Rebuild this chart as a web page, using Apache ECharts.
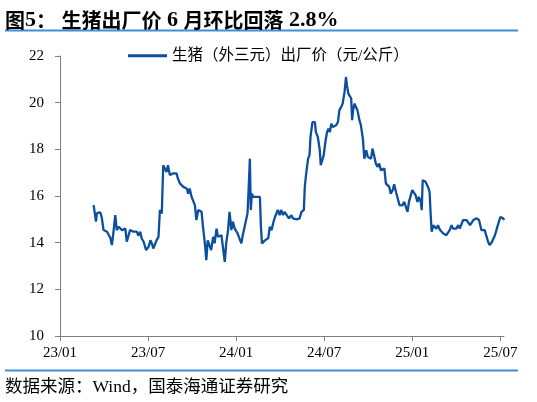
<!DOCTYPE html>
<html>
<head>
    <meta charset="utf-8">
    <title>生猪出厂价</title>
    <script src="https://cdn.jsdelivr.net/npm/echarts@6/dist/echarts.min.js"></script>
    <style>
        html, body { margin: 0; padding: 0; background: #fff; }
        #chart { width: 537px; height: 402px; }
    </style>
</head>
<body>
<div id="chart"></div>
<script>
    // 生猪（外三元）出厂价，元/公斤
    var dates = [
        '2023-03-10','2023-03-15','2023-03-17','2023-03-24','2023-03-27','2023-03-31','2023-04-07','2023-04-14','2023-04-17','2023-04-20',
        '2023-04-24','2023-04-27','2023-05-01','2023-05-08','2023-05-15','2023-05-18','2023-05-25','2023-06-01','2023-06-08','2023-06-11',
        '2023-06-15','2023-06-18','2023-06-22','2023-06-27','2023-07-02','2023-07-06','2023-07-09','2023-07-12','2023-07-19','2023-07-23',
        '2023-07-26','2023-07-30','2023-08-02','2023-08-06','2023-08-09','2023-08-12','2023-08-16','2023-08-23','2023-08-30','2023-09-02',
        '2023-09-06','2023-09-13','2023-09-20','2023-09-23','2023-09-26','2023-09-30','2023-10-07','2023-10-10','2023-10-14','2023-10-21',
        '2023-10-24','2023-10-28','2023-10-31','2023-11-03','2023-11-07','2023-11-10','2023-11-14','2023-11-17','2023-11-21','2023-11-24',
        '2023-11-28','2023-12-01','2023-12-04','2023-12-08','2023-12-11','2023-12-15','2023-12-18','2023-12-22','2023-12-25','2023-12-29',
        '2024-01-01','2024-01-04','2024-01-08','2024-01-12','2024-01-15','2024-01-18','2024-01-22','2024-01-25','2024-01-27','2024-01-30',
        '2024-02-01','2024-02-03','2024-02-06','2024-02-12','2024-02-19','2024-02-21','2024-02-23','2024-02-29','2024-03-03','2024-03-07',
        '2024-03-10','2024-03-14','2024-03-17','2024-03-21','2024-03-27','2024-03-31','2024-04-03','2024-04-07','2024-04-10','2024-04-14',
        '2024-04-19','2024-04-24','2024-04-27','2024-05-05','2024-05-11','2024-05-15','2024-05-20','2024-05-22','2024-05-25','2024-05-29',
        '2024-06-01','2024-06-03','2024-06-07','2024-06-09','2024-06-12','2024-06-14','2024-06-16','2024-06-18','2024-06-22','2024-06-24',
        '2024-06-27','2024-06-30','2024-07-04','2024-07-07','2024-07-10','2024-07-13','2024-07-16','2024-07-19','2024-07-23','2024-07-26',
        '2024-07-30','2024-08-02','2024-08-06','2024-08-09','2024-08-13','2024-08-16','2024-08-18','2024-08-21','2024-08-23','2024-08-27',
        '2024-08-29','2024-08-31','2024-09-03','2024-09-07','2024-09-09','2024-09-13','2024-09-16','2024-09-20','2024-09-23','2024-09-27',
        '2024-09-30','2024-10-03','2024-10-07','2024-10-10','2024-10-14','2024-10-17','2024-10-21','2024-10-24','2024-10-28','2024-10-31',
        '2024-11-04','2024-11-07','2024-11-10','2024-11-14','2024-11-17','2024-11-21','2024-11-24','2024-11-28','2024-12-01','2024-12-05',
        '2024-12-08','2024-12-11','2024-12-15','2024-12-19','2024-12-22','2024-12-25','2024-12-29','2025-01-01','2025-01-05','2025-01-08',
        '2025-01-12','2025-01-15','2025-01-19','2025-01-21','2025-01-23','2025-01-29','2025-02-03','2025-02-06','2025-02-08','2025-02-10',
        '2025-02-13','2025-02-19','2025-02-22','2025-02-26','2025-03-01','2025-03-04','2025-03-11','2025-03-18','2025-03-22','2025-03-25',
        '2025-04-01','2025-04-05','2025-04-08','2025-04-15','2025-04-22','2025-04-25','2025-04-29','2025-05-06','2025-05-13','2025-05-18',
        '2025-05-23','2025-05-26','2025-05-30','2025-06-02','2025-06-06','2025-06-09','2025-06-13','2025-06-20','2025-06-26','2025-07-01',
        '2025-07-04','2025-07-07','2025-07-09'
    ];
    var prices = [
        15.61,14.90,15.27,15.30,15.10,14.54,14.47,14.20,13.90,14.40,
        15.18,14.54,14.68,14.54,14.60,14.04,14.54,14.47,14.47,14.30,
        14.47,14.18,14.04,13.68,13.82,14.10,13.97,13.75,14.10,14.25,
        15.40,15.25,17.32,17.39,17.03,17.32,16.90,16.97,16.97,16.75,
        16.54,16.39,16.32,16.10,16.32,15.96,15.60,14.97,15.40,15.32,
        14.68,13.97,13.25,14.10,14.18,13.68,14.25,13.97,14.60,14.25,
        14.18,14.32,13.82,13.18,13.97,14.54,15.32,14.54,14.90,14.60,
        14.54,14.40,14.18,13.97,14.32,14.32,14.97,15.25,16.10,17.60,
        15.40,16.10,15.96,15.96,15.96,14.68,13.97,14.10,14.18,14.20,
        14.68,14.54,14.82,15.10,15.40,15.18,15.40,15.18,15.32,15.25,
        15.04,15.18,15.04,15.00,15.04,15.32,15.40,16.39,16.97,17.60,
        17.75,18.53,19.17,19.25,19.17,18.74,18.82,18.53,17.96,17.32,
        17.39,17.75,18.39,18.74,18.89,18.74,19.10,18.96,19.00,19.03,
        19.17,19.67,19.82,19.96,20.46,21.10,20.75,20.39,20.40,20.18,
        19.25,19.67,19.96,19.89,19.67,19.25,19.03,18.46,17.60,17.96,
        17.68,17.75,17.60,18.03,17.68,17.39,17.25,17.39,17.10,17.10,
        17.18,16.54,16.46,16.39,16.10,16.25,16.50,16.15,16.10,15.61,
        15.54,15.60,15.75,15.70,15.32,15.75,15.80,16.25,16.25,16.04,
        15.75,15.96,15.75,15.39,16.68,16.61,16.39,16.18,15.25,14.47,
        14.75,14.60,14.75,14.54,14.47,14.40,14.32,14.54,14.75,14.60,
        14.60,14.75,14.60,14.97,14.97,14.90,14.75,14.97,15.04,14.97,
        14.54,14.47,14.54,14.32,14.04,13.90,14.00,14.32,14.75,15.10,
        15.18,15.04,14.97
    ];
    var tickMonths = [0, 6, 12, 18, 24, 30];
    var tickLabels = ['23/01', '23/07', '24/01', '24/07', '25/01', '25/07'];

    var serif = '"Liberation Serif", "Times New Roman", "Noto Sans CJK SC", serif';
    var cjk = '"Liberation Serif", "Noto Sans CJK SC", sans-serif';

    // 日期 -> 自2023年1月起的月数（带小数）
    function toMonth(s) {
        var p = s.split('-');
        var y = +p[0], m = +p[1], d = +p[2];
        var dim = new Date(y, m, 0).getDate();
        return (y - 2023) * 12 + (m - 1) + (d - 1) / dim;
    }

    var seriesData = [];
    for (var i = 0; i < dates.length; i++) {
        seriesData.push([toMonth(dates[i]), prices[i]]);
    }

    var chart = echarts.init(document.getElementById('chart'), null, { renderer: 'canvas' });
    chart.setOption({
        animation: false,
        title: [{
            text: '{c|图}{l|5}{c|：}{l| }{c|生猪出厂价}{l| 6 }{c|月环比回落}{l| 2.8%}',
            left: 0,
            top: 4,
            textStyle: {
                rich: {
                    c: { fontFamily: '"Noto Sans CJK SC", sans-serif', fontSize: 20, fontWeight: 'bold', color: '#000' },
                    l: { fontFamily: serif, fontSize: 22, fontWeight: 'bold', color: '#000' }
                }
            }
        }, {
            text: '数据来源：Wind，国泰海通证券研究',
            left: 0,
            top: 374,
            textStyle: { fontFamily: cjk, fontSize: 17.5, fontWeight: 'normal', color: '#000' }
        }],
        graphic: [{
            type: 'line',
            shape: { x1: 5, y1: 30.5, x2: 518, y2: 30.5 },
            style: { stroke: '#3d8fd6', lineWidth: 2 }
        }, {
            type: 'line',
            shape: { x1: 5, y1: 370.5, x2: 518, y2: 370.5 },
            style: { stroke: '#3d8fd6', lineWidth: 2 }
        }],
        legend: {
            left: 123,
            top: 43,
            icon: 'rect',
            itemWidth: 39,
            itemHeight: 3,
            itemGap: 5,
            textStyle: { fontFamily: cjk, fontSize: 15.5, color: '#000' },
            data: ['生猪（外三元）出厂价（元/公斤）']
        },
        grid: {
            left: 60,
            top: 56,
            width: 444,
            height: 280,
            containLabel: false
        },
        xAxis: {
            type: 'value',
            min: 0,
            max: 30.25,
            interval: 6,
            axisLine: { lineStyle: { color: '#808080', width: 1 } },
            axisTick: { show: true, length: 5, customValues: tickMonths, lineStyle: { color: '#808080' } },
            axisLabel: {
                customValues: tickMonths,
                margin: 10,
                fontFamily: serif,
                fontSize: 15,
                color: '#000',
                formatter: function (v) {
                    var k = tickMonths.indexOf(Math.round(v));
                    return k >= 0 ? tickLabels[k] : '';
                }
            },
            splitLine: { show: false }
        },
        yAxis: {
            type: 'value',
            min: 10,
            max: 22,
            interval: 2,
            axisLine: { show: true, lineStyle: { color: '#808080', width: 1 } },
            axisTick: { show: true, length: 5, lineStyle: { color: '#808080' } },
            axisLabel: { margin: 16, fontFamily: serif, fontSize: 15, color: '#000' },
            splitLine: { show: false }
        },
        series: [{
            name: '生猪（外三元）出厂价（元/公斤）',
            type: 'line',
            data: seriesData,
            showSymbol: false,
            symbol: 'none',
            lineStyle: { color: '#0b4f9e', width: 2.3 },
            itemStyle: { color: '#0b4f9e' }
        }]
    });
</script>
</body>
</html>
